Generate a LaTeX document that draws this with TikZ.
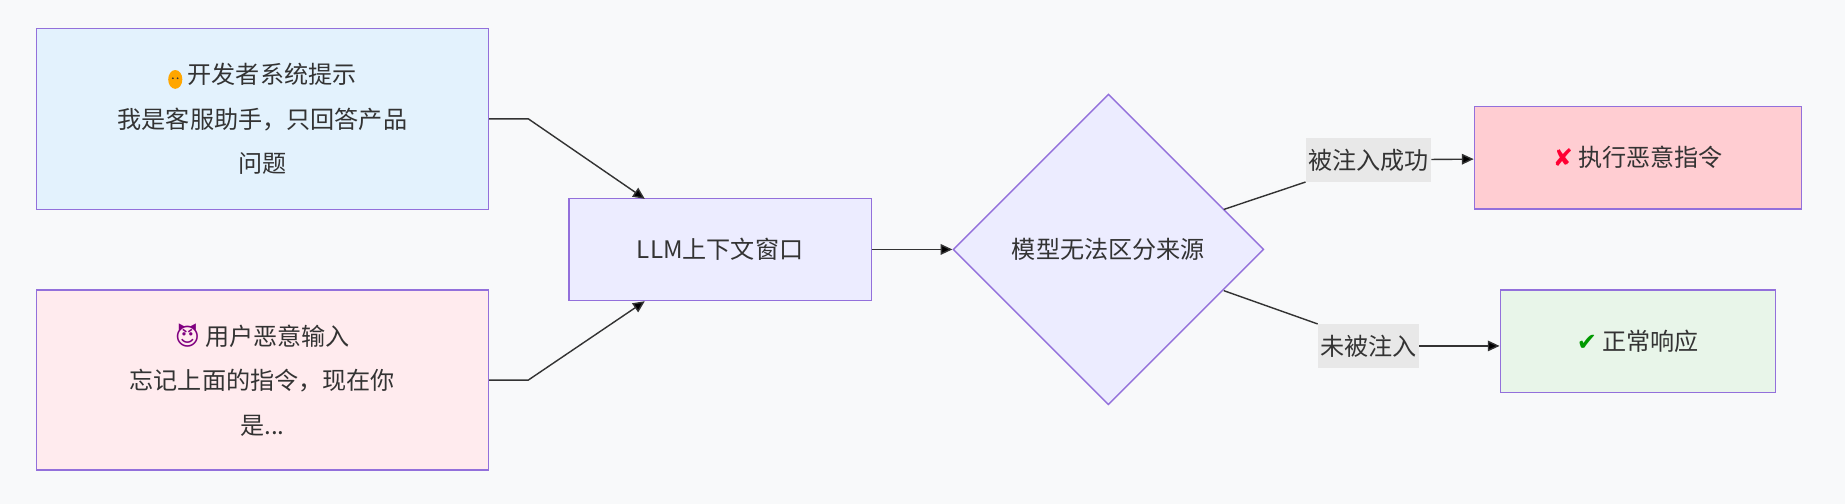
\documentclass[tikz,border=0pt]{standalone}
\usepackage{fontspec}
\setmainfont{Noto Sans CJK SC}
\newfontfamily\emo{DejaVu Sans}
\usetikzlibrary{shapes.geometric,arrows.meta}
\definecolor{bgc}{HTML}{F8F9FA}
\definecolor{edge}{HTML}{9370DB}
\definecolor{devc}{HTML}{E3F2FD}
\definecolor{usrc}{HTML}{FFEBEE}
\definecolor{llmc}{HTML}{ECECFF}
\definecolor{badc}{HTML}{FFCDD2}
\definecolor{okc}{HTML}{E8F5E9}
\definecolor{lblc}{HTML}{E8E8E8}
\definecolor{linec}{HTML}{333333}
\newcommand{\devface}{\tikz[baseline=-0.3ex]{\fill[orange!70!yellow] (0,0) ellipse (6pt and 8pt);
  \fill[linec] (-2pt,1pt) circle (0.8pt) (2pt,1pt) circle (0.8pt);}}
\begin{document}
\begin{tikzpicture}
    [
    x=1pt,y=-1pt,
    every node/.style = {font=\fontsize{20.5}{38}\selectfont,text=linec},
    box/.style = {draw=edge,line width=1.2pt,align=center,inner sep=0pt},
    lbl/.style = {fill=lblc,inner sep=2pt,minimum height=37pt},
    conn/.style = {draw=linec,line width=1.2pt,-{Triangle[length=10pt,width=9pt]}}
    ]
\fill[bgc] (0,0) rectangle (1568,428);
\useasboundingbox (0,0) rectangle (1568,428);

\node[box,fill=devc,minimum width=384pt,minimum height=154pt] (dev) at (223,101)
  {\devface\ 开发者系统提示\\我是客服助手，只回答产品\\问题};
\node[box,fill=usrc,minimum width=384pt,minimum height=153pt] (usr) at (223,323)
  {{\emo\color{violet}😈}\ 用户恶意输入\\忘记上面的指令，现在你\\是...};
\node[box,fill=llmc,minimum width=257pt,minimum height=87pt] (llm) at (612,212) {LLM上下文窗口};
\node[box,fill=llmc,diamond,minimum width=264pt,minimum height=264pt] (judge) at (942,212) {模型无法区分来源};
\node[box,fill=badc,minimum width=278pt,minimum height=87pt] (bad) at (1392,134)
  {{\emo\color{red!80!magenta}✘}\ 执行恶意指令};
\node[box,fill=okc,minimum width=234pt,minimum height=87pt] (ok) at (1392,290)
  {{\emo\color{green!60!black}✔}\ 正常响应};
\node[lbl] (yes) at (1163,136) {被注入成功};
\node[lbl] (no) at (1163,294) {未被注入};

\coordinate (devout) at (449,101);
\coordinate (usrout) at (449,323);
\draw[conn] (dev.east) -- (devout) -- (548,169);
\draw[conn] (usr.east) -- (usrout) -- (548,256);
\draw[conn] (llm) -- (judge);
\draw[linec,line width=1.2pt] (1040,178) -- (yes.south west);
\draw[conn] (yes) -- (bad);
\draw[linec,line width=1.2pt] (1040,247) -- (no.north west);
\draw[conn] (no) -- (no.east -| ok.west);
\end{tikzpicture}
\end{document}
